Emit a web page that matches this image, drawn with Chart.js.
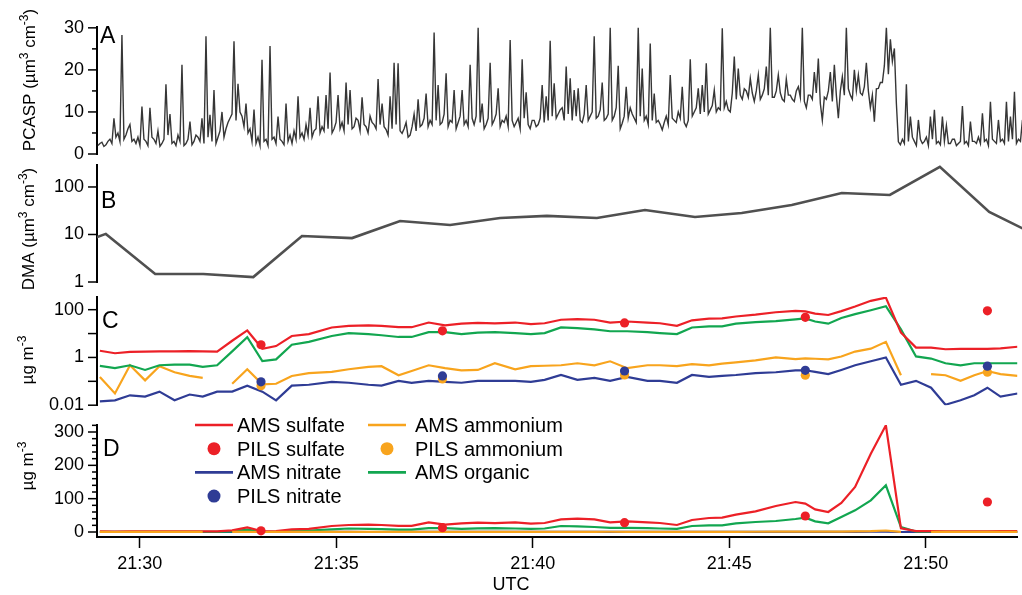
<!DOCTYPE html>
<html>
<head>
<meta charset="utf-8">
<script src="https://cdn.jsdelivr.net/npm/chart.js@4.4.1/dist/chart.umd.min.js"></script>
<style>
  html, body { margin: 0; padding: 0; background: #fff; }
  #wrap { position: relative; width: 1022px; height: 595px; overflow: hidden; }
  #wrap canvas { position: absolute; left: 0; }
</style>
</head>
<body>
<div id="wrap">
  <canvas id="panelA" width="1022" height="170" style="top:0px"></canvas>
  <canvas id="panelB" width="1022" height="150" style="top:150px"></canvas>
  <canvas id="panelC" width="1022" height="140" style="top:280px"></canvas>
  <canvas id="panelD" width="1022" height="185" style="top:410px"></canvas>
</div>
<script>
// x axis (UTC)
const xTickLabels = ['21:30', '21:35', '21:40', '21:45', '21:50'];
const xStart = '21:28:54.6';
const xEnd = '21:52:19.8';

// A: PCASP volume, one sample every ~3 s
const pcaspStart = '21:28:56';
const pcaspStepSec = 3.04;
const pcaspValues = [
  2.0, 2.5, 2.8, 1.8, 2.2, 3.0, 3.5, 2.5, 8.5, 4.0, 5.0, 3.0, 28.3, 3.5, 4.5, 6.0, 7.0, 3.0, 3.5, 2.5,
  4.0, 2.0, 11.3, 3.5, 3.0, 2.0, 11.0, 4.0, 3.5, 2.5, 5.5, 1.8, 2.5, 3.5, 16.6, 4.5, 9.5, 2.5, 3.0, 2.0,
  4.5, 3.0, 21.2, 2.0, 2.5, 3.5, 7.7, 2.2, 3.0, 4.5, 4.0, 3.0, 8.5, 2.5, 28.0, 4.0, 9.3, 3.0, 15.2, 2.5,
  4.0, 5.5, 10.0, 4.0, 6.0, 7.5, 8.5, 9.5, 26.8, 8.0, 16.7, 10.0, 9.0, 6.5, 12.0, 5.0, 6.0, 3.0, 10.6, 2.5,
  4.0, 2.0, 22.4, 3.0, 3.5, 2.0, 25.7, 3.5, 4.0, 2.5, 8.9, 3.5, 3.0, 2.2, 12.0, 3.0, 4.5, 2.5, 5.5, 3.5,
  13.7, 4.0, 5.0, 3.5, 7.0, 4.5, 11.0, 4.0, 5.5, 6.0, 13.7, 5.0, 6.5, 5.5, 14.0, 6.0, 19.4, 5.0, 6.0, 7.5,
  14.0, 6.0, 7.5, 5.5, 17.0, 7.0, 15.2, 6.0, 6.5, 8.5, 8.0, 5.5, 13.5, 7.0, 6.5, 5.0, 9.0, 7.5, 7.0, 6.0,
  17.8, 7.0, 12.0, 6.5, 5.8, 4.5, 13.7, 6.0, 21.7, 7.0, 21.6, 5.5, 4.9, 6.0, 7.5, 4.0, 4.5, 6.5, 9.5, 5.5,
  13.0, 6.5, 7.0, 8.5, 14.4, 6.5, 8.0, 7.0, 28.9, 8.0, 16.4, 7.0, 7.5, 9.5, 19.2, 6.5, 8.0, 7.5, 15.2, 6.0,
  7.5, 9.0, 15.2, 7.0, 8.0, 6.5, 21.2, 8.5, 7.0, 9.0, 30.0, 7.5, 12.0, 6.0, 7.0, 8.5, 21.7, 7.0, 8.0, 9.5,
  15.6, 6.5, 8.0, 7.5, 9.0, 6.5, 27.1, 8.0, 6.5, 7.5, 8.5, 6.0, 22.5, 8.5, 14.7, 7.0, 6.0, 8.0, 8.0, 6.5,
  7.0, 8.5, 16.4, 7.5, 13.7, 8.0, 26.9, 9.0, 16.8, 8.5, 9.5, 10.5, 11.0, 8.0, 20.8, 9.5, 18.0, 8.0, 15.2, 9.0,
  15.6, 8.0, 7.5, 9.5, 16.4, 8.0, 9.0, 10.0, 28.0, 8.5, 9.0, 10.5, 17.0, 8.0, 8.5, 9.5, 30.0, 8.0, 9.0, 11.0,
  21.0, 6.0, 7.3, 9.0, 16.0, 8.5, 11.0, 9.5, 8.5, 7.5, 30.0, 9.0, 20.3, 8.0, 9.0, 7.0, 26.3, 8.0, 14.4, 7.5,
  8.0, 7.0, 5.7, 7.5, 9.0, 7.0, 18.8, 8.5, 8.0, 7.5, 10.0, 8.5, 16.0, 7.5, 6.5, 8.0, 22.5, 9.0, 10.0, 11.0,
  15.6, 9.5, 16.4, 10.0, 21.6, 9.5, 10.5, 11.5, 15.2, 10.0, 11.0, 10.5, 29.9, 11.0, 12.5, 10.5, 10.0, 14.5, 23.2, 13.0,
  20.3, 14.0, 13.0, 15.5, 15.0, 13.5, 18.0, 14.5, 12.5, 15.0, 18.8, 13.0, 14.0, 15.5, 20.8, 14.0, 30.0, 13.5, 13.5, 15.0,
  18.8, 14.5, 13.0, 12.5, 17.8, 14.0, 14.0, 13.0, 12.5, 15.0, 16.0, 13.5, 30.0, 12.5, 11.0, 14.0, 14.0, 13.0, 19.5, 14.5,
  22.7, 12.0, 8.0, 13.5, 13.0, 15.0, 19.5, 12.5, 21.2, 14.0, 8.5, 15.0, 18.4, 14.0, 30.0, 15.5, 14.0, 13.0, 20.0, 15.0,
  18.8, 14.5, 14.0, 16.0, 21.7, 15.0, 11.0, 14.0, 7.7, 15.5, 15.6, 17.0, 17.0, 21.0, 30.0, 19.0, 27.3, 22.0, 25.1, 12.0,
  2.9, 2.2, 3.5, 2.5, 16.6, 3.0, 8.9, 4.0, 3.0, 2.0, 8.1, 3.5, 2.5, 3.0, 4.0, 2.0, 8.9, 3.5, 10.5, 2.5,
  3.0, 2.2, 8.9, 3.0, 6.8, 2.5, 2.5, 3.5, 3.5, 2.0, 2.5, 3.0, 11.4, 2.5, 3.0, 2.0, 7.7, 3.0, 3.0, 2.5,
  4.0, 2.5, 9.7, 3.0, 3.5, 2.0, 12.4, 3.5, 3.0, 2.5, 8.1, 3.0, 3.5, 2.5, 12.4, 3.0, 8.9, 3.5, 14.8, 2.5,
  3.5, 3.0, 8.1
];

// B: DMA volume
const dmaTimes = ['21:27:54', '21:29:08', '21:30:23', '21:31:36', '21:32:52', '21:34:06', '21:35:22',
  '21:36:35', '21:37:51', '21:39:07', '21:40:18', '21:41:34', '21:42:47', '21:44:03', '21:45:14',
  '21:46:30', '21:47:46', '21:48:59', '21:50:15', '21:51:30', '21:52:44'];
const dmaValues = [4.3, 10.3, 1.47, 1.47, 1.27, 9.3, 8.4, 19.2, 15.8, 22.3, 24.6, 22.3, 32.7, 23.4,
  28.3, 41.9, 74.9, 68, 265, 29.8, 9.3];

// C and D: AMS species (ug m-3)
const amsTimes = [
  '21:28:59', '21:29:22', '21:29:45', '21:30:08', '21:30:30', '21:30:53', '21:31:16', '21:31:36', '21:31:58', '21:32:21',
  '21:32:44', '21:33:07', '21:33:28', '21:33:52', '21:34:18', '21:34:53', '21:35:19', '21:35:49', '21:36:09', '21:36:35',
  '21:36:55', '21:37:21', '21:37:46', '21:38:11', '21:38:36', '21:39:02', '21:39:33', '21:39:57', '21:40:18', '21:40:43',
  '21:41:08', '21:41:34', '21:41:58', '21:42:24', '21:42:55', '21:43:14', '21:43:40', '21:44:03', '21:44:29', '21:44:49',
  '21:45:10', '21:45:40', '21:46:11', '21:46:41', '21:46:56', '21:47:11', '21:47:31', '21:47:51', '21:48:12', '21:48:36',
  '21:48:59', '21:49:22', '21:49:45', '21:50:08', '21:50:30', '21:50:53', '21:51:14', '21:51:34', '21:51:54', '21:52:20'
];
const amsSulfate = [
  1.9, 1.5, 1.7, 1.75, 1.8, 1.8, 1.85, 1.8, 1.75, 5,
  13.5, 2.3, 3.0, 7.9, 9.5, 18, 21, 22, 21, 18.5,
  18.5, 29, 22, 26, 28, 26.5, 29, 25, 27, 38,
  40, 38, 29, 32, 29, 27, 21, 36, 42, 43,
  52, 62, 78, 90, 85, 68, 60, 87, 135, 235,
  320, 11, 2.6, 2.6, 2.2, 2.3, 2.3, 2.3, 2.4, 2.8
];
const amsOrganic = [
  0.44, 0.36, 0.47, 0.30, 0.47, 0.50, 0.50, 0.40, 0.47, 1.8,
  7.0, 0.70, 0.83, 3.4, 4.5, 7.9, 10.5, 9.5, 8.5, 7.2,
  7.2, 11.5, 11.5, 9.5, 11, 11.5, 10.5, 9.5, 10.5, 18,
  17, 15, 12.5, 12.5, 11.5, 10.5, 9.5, 18, 20, 20,
  26, 30, 33, 39, 43, 32, 26, 45, 65, 95,
  140, 15, 1.1, 0.9, 0.57, 0.47, 0.57, 0.57, 0.57, 0.57
];
const amsAmmonium = [
  0.15, 0.031, 0.47, 0.11, 0.43, 0.24, 0.17, 0.14, null, 0.079,
  0.32, 0.075, 0.079, 0.168, 0.22, 0.25, 0.32, 0.40, 0.43, 0.18,
  0.27, 0.47, 0.355, 0.29, 0.30, 0.57, 0.32, 0.43, 0.45, 0.47,
  0.57, 0.47, 0.69, 0.355, 0.47, 0.47, 0.43, 0.52, 0.47, 0.55,
  0.62, 0.75, 1.0, 0.85, 0.91, 0.88, 0.83, 1.1, 1.76, 2.33,
  4.5, 0.18, null, 0.2, 0.18, 0.105, 0.18, 0.27, 0.2, 0.168
];
const amsNitrate = [
  0.0145, 0.016, 0.026, 0.023, 0.037, 0.016, 0.028, 0.023, 0.037, 0.037,
  0.066, 0.037, 0.016, 0.066, 0.072, 0.095, 0.087, 0.072, 0.066, 0.105,
  0.087, 0.105, 0.095, 0.087, 0.105, 0.105, 0.105, 0.095, 0.115, 0.184,
  0.115, 0.14, 0.105, 0.153, 0.105, 0.105, 0.087, 0.184, 0.153, 0.17,
  0.184, 0.22, 0.24, 0.29, 0.29, 0.25, 0.2, 0.3, 0.47, 0.69,
  1.0, 0.072, 0.105, 0.054, 0.0105, 0.016, 0.026, 0.054, 0.023, 0.031
];

// PILS samples
const pilsTimes = ['21:33:05', '21:37:42', '21:42:20', '21:46:56', '21:51:34'];
const pilsSulfate = [3.4, 13, 28, 48, 90];
const pilsNitrate = [0.095, 0.168, 0.27, 0.29, 0.43];
const pilsAmmonium = [0.066, 0.126, 0.184, 0.18, 0.24];

const FONT = "'Liberation Sans', Arial, Helvetica, sans-serif";
const RED = '#ec2027';
const BLUE = '#2f3c95';
const ORANGE = '#f8a41d';
const GREEN = '#12a650';
const GREY = '#363636';

Chart.defaults.font.family = FONT;
Chart.defaults.color = '#000';

function toMin(t) {
  const p = t.split(':').map(Number);
  return (p[0] - 21) * 60 + p[1] + (p[2] || 0) / 60;
}

function pts(times, values) {
  return times.map(function(t, i) { return { x: toMin(t), y: values[i] }; });
}

function pcaspPts() {
  const t0 = toMin(pcaspStart);
  return pcaspValues.map(function(v, i) { return { x: t0 + i * pcaspStepSec / 60, y: v }; });
}

function lineSet(label, data, color, width) {
  return { label, data, borderColor: color, backgroundColor: color, borderWidth: width || 2.2,
    pointRadius: 0, tension: 0, spanGaps: false, fill: false };
}

function dotSet(label, data, color) {
  return { label, data, showLine: false, pointRadius: 4.6, pointBorderWidth: 0,
    pointBackgroundColor: color, borderColor: color, backgroundColor: color };
}

function drawRich(ctx, segs, size) {
  const supSize = Math.round(size * 0.7);
  let total = 0;
  segs.forEach(function(s) {
    ctx.font = (s.sup ? supSize : size) + 'px ' + FONT;
    s.w = ctx.measureText(s.t).width;
    total += s.w;
  });
  let x = -total / 2;
  ctx.textAlign = 'left';
  ctx.textBaseline = 'alphabetic';
  segs.forEach(function(s) {
    ctx.font = (s.sup ? supSize : size) + 'px ' + FONT;
    ctx.fillText(s.t, x, s.sup ? -size * 0.42 : 0);
    x += s.w;
  });
}

// tick marks, panel letter, rotated y title (positions given in page px)
const panelDecor = {
  id: 'panel',
  afterDraw(chart, args, opts) {
    const ctx = chart.ctx;
    const ys = chart.scales.y;
    const top = opts.top;
    ctx.save();
    ctx.strokeStyle = '#000';
    ctx.lineWidth = 1.5;
    [[opts.major, 9], [opts.minor || [], 5]].forEach(function(pair) {
      pair[0].forEach(function(v) {
        const y = ys.getPixelForValue(v);
        ctx.beginPath();
        ctx.moveTo(ys.right - pair[1], y);
        ctx.lineTo(ys.right, y);
        ctx.stroke();
      });
    });
    ctx.fillStyle = '#000';
    ctx.font = '23px ' + FONT;
    ctx.textAlign = 'left';
    ctx.textBaseline = 'alphabetic';
    ctx.fillText(opts.letter, opts.letterX, opts.letterY - top);
    ctx.save();
    ctx.translate(opts.titleX, opts.titleY - top);
    ctx.rotate(-Math.PI / 2);
    drawRich(ctx, opts.title, 17);
    ctx.restore();
    if (opts.legend) drawLegend(ctx, top);
    if (opts.xTitle) {
      ctx.font = '18px ' + FONT;
      ctx.textAlign = 'center';
      ctx.fillText(opts.xTitle, 511, 590 - top);
    }
    ctx.restore();
  }
};

const legendEntries = [
  { label: 'AMS sulfate', color: RED, line: true },
  { label: 'PILS sulfate', color: RED, line: false },
  { label: 'AMS nitrate', color: BLUE, line: true },
  { label: 'PILS nitrate', color: BLUE, line: false },
  { label: 'AMS ammonium', color: ORANGE, line: true },
  { label: 'PILS ammonium', color: ORANGE, line: false },
  { label: 'AMS organic', color: GREEN, line: true }
];

function drawLegend(ctx, top) {
  const symX = [214, 387];
  const textX = [237, 415];
  legendEntries.forEach(function(e, k) {
    const col = Math.floor(k / 4);
    const y = 425 + (k % 4) * 23.7 - top;
    ctx.strokeStyle = e.color;
    ctx.fillStyle = e.color;
    if (e.line) {
      ctx.lineWidth = 2.6;
      ctx.beginPath();
      ctx.moveTo(symX[col] - 19, y);
      ctx.lineTo(symX[col] + 19, y);
      ctx.stroke();
    } else {
      ctx.beginPath();
      ctx.arc(symX[col], y, 6.5, 0, Math.PI * 2);
      ctx.fill();
    }
    ctx.fillStyle = '#000';
    ctx.font = '20px ' + FONT;
    ctx.textAlign = 'left';
    ctx.textBaseline = 'alphabetic';
    ctx.fillText(e.label, textX[col], y + 7);
  });
}

function xScale(show) {
  return {
    type: 'linear', display: show, bounds: 'data',
    min: toMin(xStart), max: toMin(xEnd),
    afterBuildTicks(s) { s.ticks = xTickLabels.map(function(t) { return { value: toMin(t) }; }); },
    afterFit(s) { if (show) s.height = 58; },
    grid: { display: true, drawOnChartArea: false, drawTicks: true, tickLength: 11, tickColor: '#000', tickWidth: 1.5 },
    border: { display: true, color: '#000', width: 2 },
    ticks: { padding: 5, color: '#000', font: { size: 18 }, maxRotation: 0, autoSkip: false,
      callback: function(v, i) { return xTickLabels[i]; } }
  };
}

function yScale(type, min, max, labels) {
  return {
    type, min, max, bounds: 'data',
    afterFit(s) { s.width = 97; },
    afterBuildTicks(s) { s.ticks = labels.map(function(v) { return { value: v }; }); },
    grid: { display: true, drawOnChartArea: false, drawTicks: true, tickLength: 9, tickColor: 'rgba(0,0,0,0)' },
    border: { display: true, color: '#000', width: 2 },
    ticks: { padding: 4, color: '#000', font: { size: 18 }, autoSkip: false,
      callback: function(v) { return String(v); } }
  };
}

function makePanel(id, datasets, y, padTop, padBottom, showX, panel) {
  return new Chart(document.getElementById(id), {
    type: 'line',
    data: { datasets },
    options: {
      responsive: false, animation: false, events: [],
      layout: { padding: { top: padTop, bottom: padBottom, left: 0, right: 0 } },
      plugins: { legend: { display: false }, tooltip: { enabled: false }, panel },
      scales: { x: xScale(showX), y }
    },
    plugins: [panelDecor]
  });
}

const umSup = [{ t: ' (\u00b5m' }, { t: '3', sup: true }, { t: ' cm' }, { t: '-3', sup: true }, { t: ')' }];
const ugSup = [{ t: '\u00b5g m' }, { t: '-3', sup: true }];

makePanel('panelA',
  [lineSet('PCASP', pcaspPts(), GREY, 1.4)],
  yScale('linear', 0, 30.2, [0, 10, 20, 30]), 27, 16, false,
  { top: 0, major: [0, 10, 20, 30], minor: [5, 15, 25], letter: 'A', letterX: 100, letterY: 43,
    title: [{ t: 'PCASP' }].concat(umSup), titleX: 35, titleY: 80 });

makePanel('panelB',
  [lineSet('DMA', pts(dmaTimes, dmaValues), '#505050', 2.6)],
  yScale('logarithmic', 1, 290, [1, 10, 100]), 15, 18, false,
  { top: 150, major: [1, 10, 100], letter: 'B', letterX: 101, letterY: 208,
    title: [{ t: 'DMA' }].concat(umSup), titleX: 34, titleY: 229 });

makePanel('panelC', [
  dotSet('PILS nitrate', pts(pilsTimes, pilsNitrate), BLUE),
  dotSet('PILS ammonium', pts(pilsTimes, pilsAmmonium), ORANGE),
  dotSet('PILS sulfate', pts(pilsTimes, pilsSulfate), RED),
  lineSet('AMS sulfate', pts(amsTimes, amsSulfate), RED),
  lineSet('AMS organic', pts(amsTimes, amsOrganic), GREEN),
  lineSet('AMS ammonium', pts(amsTimes, amsAmmonium), ORANGE),
  lineSet('AMS nitrate', pts(amsTimes, amsNitrate), BLUE)
], yScale('logarithmic', 0.01, 340, [0.01, 1, 100]), 17, 12, false,
  { top: 280, major: [0.01, 0.1, 1, 10, 100], letter: 'C', letterX: 102, letterY: 328,
    title: ugSup, titleX: 33, titleY: 360 });

makePanel('panelD', [
  dotSet('PILS sulfate', pts(pilsTimes, pilsSulfate), RED),
  lineSet('AMS ammonium', pts(amsTimes, amsAmmonium), ORANGE),
  lineSet('AMS sulfate', pts(amsTimes, amsSulfate), RED),
  lineSet('AMS organic', pts(amsTimes, amsOrganic), GREEN),
  lineSet('AMS nitrate', pts(amsTimes, amsNitrate), BLUE)
], yScale('linear', -15, 321, [0, 100, 200, 300]), 15, 0, true,
  { top: 410, major: [0, 100, 200, 300],
    minor: [20, 40, 60, 80, 120, 140, 160, 180, 220, 240, 260, 280, 320],
    letter: 'D', letterX: 103, letterY: 456, title: ugSup, titleX: 33, titleY: 466,
    legend: true, xTitle: 'UTC' });
</script>
</body>
</html>
